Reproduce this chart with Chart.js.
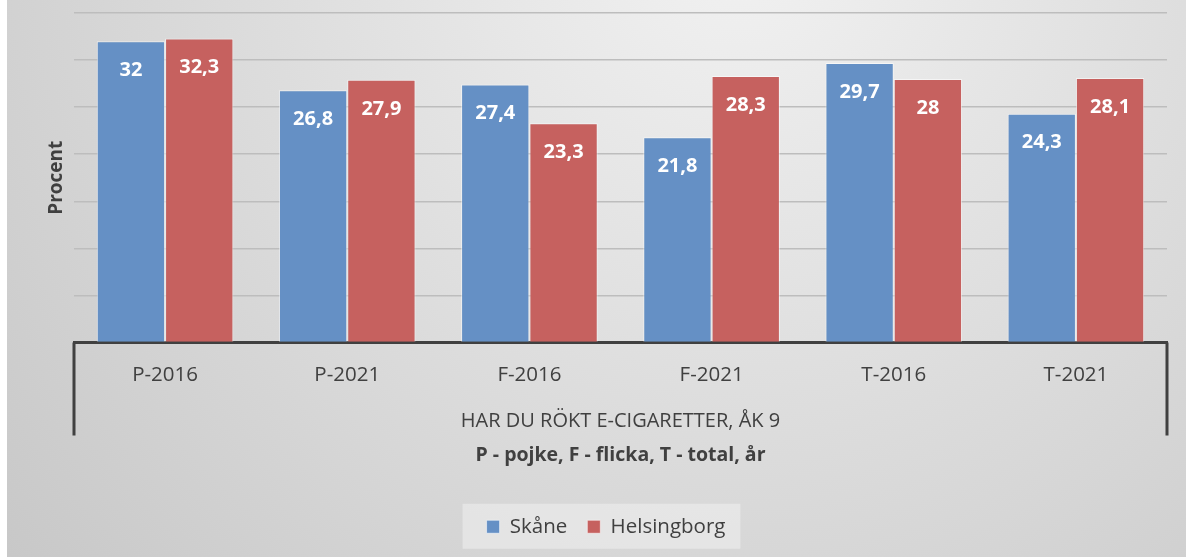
<!DOCTYPE html>
<html>
<head>
<meta charset="utf-8">
<script src="https://cdn.jsdelivr.net/npm/chart.js@4"></script>
<style>
  html, body { margin: 0; padding: 0; background: #fff; }
  #wrap { position: absolute; left: 7px; top: 0; width: 1179px; height: 557px; }
</style>
</head>
<body>
<div id="wrap"><canvas id="chart"></canvas></div>
<script>
const categories = ['P-2016', 'P-2021', 'F-2016', 'F-2021', 'T-2016', 'T-2021'];
const skane = [32, 26.8, 27.4, 21.8, 29.7, 24.3];
const helsingborg = [32.3, 27.9, 23.3, 28.3, 28, 28.1];
const groupLabel = ['HAR DU RÖKT E-CIGARETTER, ÅK 9'];

const FONT = "'Open Sans', sans-serif";
const TEXT = '#404040';

// grå bakgrund med toning
const bgPlugin = {
    id: 'bg',
    beforeDraw(chart) {
        const { ctx, width, height } = chart;
        ctx.save();
        const g = ctx.createRadialGradient(width * 0.62, -60, 40, width * 0.62, -60, 1000);
        g.addColorStop(0, '#f0f0f0');
        g.addColorStop(1, '#c6c6c6');
        ctx.fillStyle = g;
        ctx.fillRect(0, 0, width, height);

        // ljus ruta bakom förklaringen
        const boxes = chart.legend && chart.legend.legendHitBoxes;
        if (boxes && boxes.length) {
            const l = Math.min(...boxes.map(b => b.left)) - 24;
            const r = Math.max(...boxes.map(b => b.left + b.width)) + 15;
            const cy = boxes[0].top + boxes[0].height / 2;
            ctx.fillStyle = 'rgba(240,240,240,0.55)';
            ctx.fillRect(l, cy - 23, r - l, 45);
        }
        ctx.restore();
    }
};

// ram runt kategoriaxeln
const axisFramePlugin = {
    id: 'axisFrame',
    afterDraw(chart) {
        const { ctx, chartArea } = chart;
        const x2 = chart.scales.x2;
        const bottom = x2.top + 43;
        ctx.save();
        ctx.strokeStyle = TEXT;
        ctx.lineWidth = 3;
        ctx.beginPath();
        ctx.moveTo(chartArea.left, chartArea.bottom);
        ctx.lineTo(chartArea.left, bottom);
        ctx.moveTo(chartArea.right, chartArea.bottom);
        ctx.lineTo(chartArea.right, bottom);
        ctx.stroke();
        ctx.restore();
    }
};

// värden inuti staplarna
const valueLabelPlugin = {
    id: 'valueLabels',
    afterDatasetsDraw(chart) {
        const { ctx } = chart;
        ctx.save();
        ctx.font = "bold 20px " + FONT;
        ctx.fillStyle = '#ffffff';
        ctx.textAlign = 'center';
        ctx.textBaseline = 'middle';
        chart.data.datasets.forEach((ds, i) => {
            chart.getDatasetMeta(i).data.forEach((bar, j) => {
                const txt = String(ds.data[j]).replace('.', ',');
                ctx.fillText(txt, bar.x, bar.y + 29);
            });
        });
        ctx.restore();
    }
};

const ctx = document.getElementById('chart').getContext('2d');
new Chart(ctx, {
    type: 'bar',
    data: {
        labels: categories,
        datasets: [{
            label: 'Skåne',
            data: skane,
            backgroundColor: '#6590c5',
            borderColor: 'rgba(255,255,255,0.55)',
            borderWidth: 1,
            categoryPercentage: 0.75,
            barPercentage: 1
        }, {
            label: 'Helsingborg',
            data: helsingborg,
            backgroundColor: '#c6615f',
            borderColor: 'rgba(255,255,255,0.55)',
            borderWidth: 1,
            categoryPercentage: 0.75,
            barPercentage: 1
        }]
    },
    options: {
        responsive: true,
        maintainAspectRatio: false,
        animation: false,
        layout: {
            padding: { top: 13, left: 38, right: 19, bottom: 10 }
        },
        plugins: {
            legend: {
                position: 'bottom',
                labels: {
                    color: TEXT,
                    font: { family: FONT, size: 20.5 },
                    boxWidth: 13,
                    boxHeight: 13,
                    padding: 20
                }
            },
            tooltip: { enabled: false }
        },
        scales: {
            y: {
                min: 0,
                max: 35,
                ticks: { display: false, stepSize: 5 },
                grid: { color: '#bdbdbd', lineWidth: 1.5, drawTicks: false },
                border: { display: false },
                title: {
                    display: true,
                    text: 'Procent',
                    color: TEXT,
                    font: { family: FONT, size: 19, weight: 'bold' },
                    padding: 0
                },
                afterFit(scale) { scale.width = 29; }
            },
            x: {
                weight: 1,
                grid: { display: false },
                border: { display: true, color: TEXT, width: 3 },
                ticks: {
                    color: TEXT,
                    font: { family: FONT, size: 20.5 },
                    padding: 12
                },
                afterFit(scale) { scale.height = 50; }
            },
            x2: {
                type: 'category',
                position: 'bottom',
                weight: 2,
                labels: groupLabel,
                grid: { display: false },
                border: { display: false },
                ticks: {
                    color: TEXT,
                    font: { family: FONT, size: 20 },
                    padding: 9
                },
                title: {
                    display: true,
                    text: 'P - pojke, F - flicka, T - total, år',
                    color: TEXT,
                    font: { family: FONT, size: 19.5, weight: 'bold' },
                    padding: { top: 10, bottom: 29 }
                },
                afterFit(scale) { scale.height = 104; }
            }
        }
    },
    plugins: [bgPlugin, axisFramePlugin, valueLabelPlugin]
});
</script>
</body>
</html>
